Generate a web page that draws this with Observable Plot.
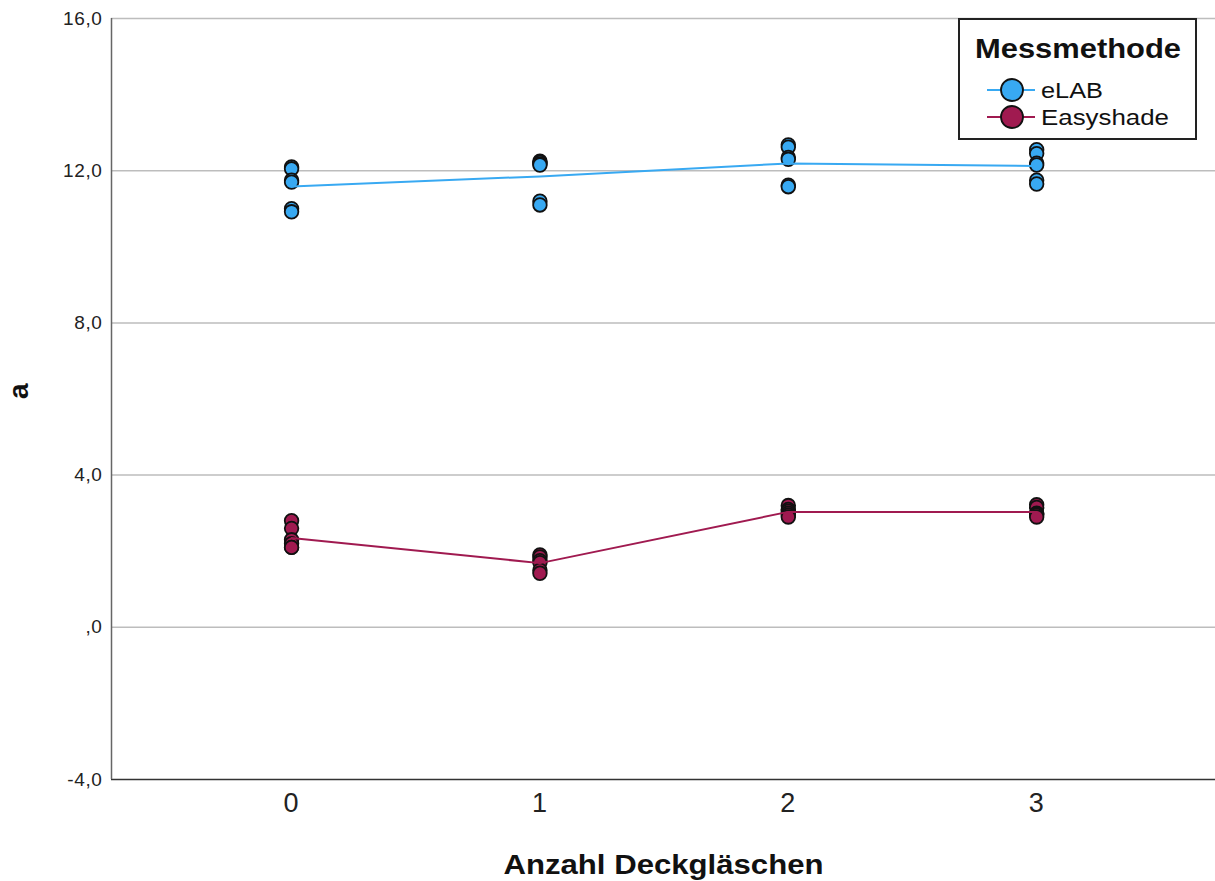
<!DOCTYPE html>
<html><head><meta charset="utf-8">
<script src="https://cdn.jsdelivr.net/npm/d3@7"></script>
<script src="https://cdn.jsdelivr.net/npm/@observablehq/plot@0.6"></script>
<style>
body{margin:0;background:#fff;font-family:"Liberation Sans",Arial,sans-serif}
#wrap{position:relative;width:1215px;height:881px}
#legend{position:absolute;left:958px;top:18px;width:235px;height:118px;border:2px solid #222;background:#fff;box-sizing:content-box}
</style>
</head><body><div id="wrap"><div id="legend"></div></div>
<script>
const categories = [0, 1, 2, 3];
const seriesNames = ["eLAB", "Easyshade"];
const seriesColors = ["#38a9f2", "#a01a50"];
const yTicks = [-4, 0, 4, 8, 12, 16];
const yTickLabels = ["-4,0", ",0", "4,0", "8,0", "12,0", "16,0"];
const xLabel = "Anzahl Deckgläschen";
const yLabel = "a";
const legendTitle = "Messmethode";

// measured values per category
const eLAB0 = [12.1, 12.05, 11.75, 11.7, 11.0, 10.92];
const eLAB1 = [12.25, 12.22, 12.18, 12.15, 11.2, 11.1];
const eLAB2 = [12.68, 12.62, 12.35, 12.3, 11.62, 11.58];
const eLAB3 = [12.55, 12.45, 12.2, 12.15, 11.75, 11.65];
const easy0 = [2.8, 2.6, 2.3, 2.2, 2.1, 2.1];
const easy1 = [1.9, 1.85, 1.75, 1.7, 1.5, 1.42];
const easy2 = [3.2, 3.1, 3.05, 3.0, 2.95, 2.9];
const easy3 = [3.22, 3.15, 3.0, 2.98, 2.95, 2.9];

const eLAB = [eLAB0, eLAB1, eLAB2, eLAB3];
const easy = [easy0, easy1, easy2, easy3];

const data = [];
categories.forEach((c, i) => {
  eLAB[i].forEach(v => data.push({n: c, a: v, method: "eLAB"}));
  easy[i].forEach(v => data.push({n: c, a: v, method: "Easyshade"}));
});

const font = '"Liberation Sans", Arial, sans-serif';

const chart = Plot.plot({
  width: 1215, height: 881,
  marginLeft: 111, marginRight: 0, marginTop: 18, marginBottom: 102,
  style: {fontFamily: font, background: "white", color: "#222"},
  x: {type: "linear", domain: [-0.725, 3.72], label: null},
  y: {domain: [-4, 16], label: null},
  color: {domain: seriesNames, range: seriesColors},
  marks: [
    Plot.ruleY(yTicks.filter(t => t !== -4), {stroke: "#bdbdbd", strokeWidth: 1.5}),
    Plot.ruleY([-4], {stroke: "#333", strokeWidth: 1.5}),
    Plot.ruleX([-0.725], {stroke: "#666", strokeWidth: 1.5}),
    Plot.axisY(yTicks, {tickSize: 0, tickPadding: 9, fontSize: 19, tickFormat: d => yTickLabels[yTicks.indexOf(d)], label: null}),
    Plot.axisX(categories, {tickSize: 0, tickPadding: 13, fontSize: 27, tickFormat: d => String(d), label: null}),
    Plot.dot(data, {x: "n", y: "a", r: 6.8, fill: "method", stroke: "#111", strokeWidth: 1.8}),
    Plot.lineY(data, Plot.groupX({y: "mean"}, {x: "n", y: "a", stroke: "method", strokeWidth: 2})),
    Plot.text([xLabel], {frameAnchor: "bottom", dy: 86, fontSize: 28, fontWeight: "bold", lineAnchor: "middle", fill: "#111"}),
    Plot.text([yLabel], {frameAnchor: "left", dx: -92, rotate: -90, fontSize: 28, fontWeight: "bold", fill: "#111"})
  ]
});
document.getElementById("wrap").insertBefore(chart, document.getElementById("legend"));
chart.style.position = "absolute"; chart.style.left = "0"; chart.style.top = "0";

// widen text slightly to match the reference's rendering
d3.select(chart).selectAll("text").each(function() {
  const t = this.textContent;
  if (t === xLabel) {
    d3.select(this).attr("textLength", 320).attr("lengthAdjust", "spacingAndGlyphs");
  } else if (yTickLabels.includes(t)) {
    d3.select(this).style("letter-spacing", "0.6px");
  } else if (["0","1","2","3"].includes(t)) {
    d3.select(this).style("letter-spacing", "1px");
  }
});

// legend
const legendLengths = [62, 128];
const lg = d3.select("#legend").append("svg").attr("width", 235).attr("height", 118)
  .style("font-family", font);
lg.append("text").attr("x", 15).attr("y", 38).attr("font-size", 28).attr("font-weight", "bold")
  .attr("fill", "#111").attr("textLength", 206).attr("lengthAdjust", "spacingAndGlyphs").text(legendTitle);
seriesNames.forEach((s, i) => {
  const y = 70 + i * 27;
  lg.append("line").attr("x1", 27).attr("x2", 75).attr("y1", y).attr("y2", y)
    .attr("stroke", seriesColors[i]).attr("stroke-width", 2);
  lg.append("circle").attr("cx", 52).attr("cy", y).attr("r", 11)
    .attr("fill", seriesColors[i]).attr("stroke", "#111").attr("stroke-width", 1.8);
  lg.append("text").attr("x", 81).attr("y", y + 8).attr("font-size", 22).attr("fill", "#111")
    .attr("textLength", legendLengths[i]).attr("lengthAdjust", "spacingAndGlyphs").text(s);
});
</script>
</body></html>
